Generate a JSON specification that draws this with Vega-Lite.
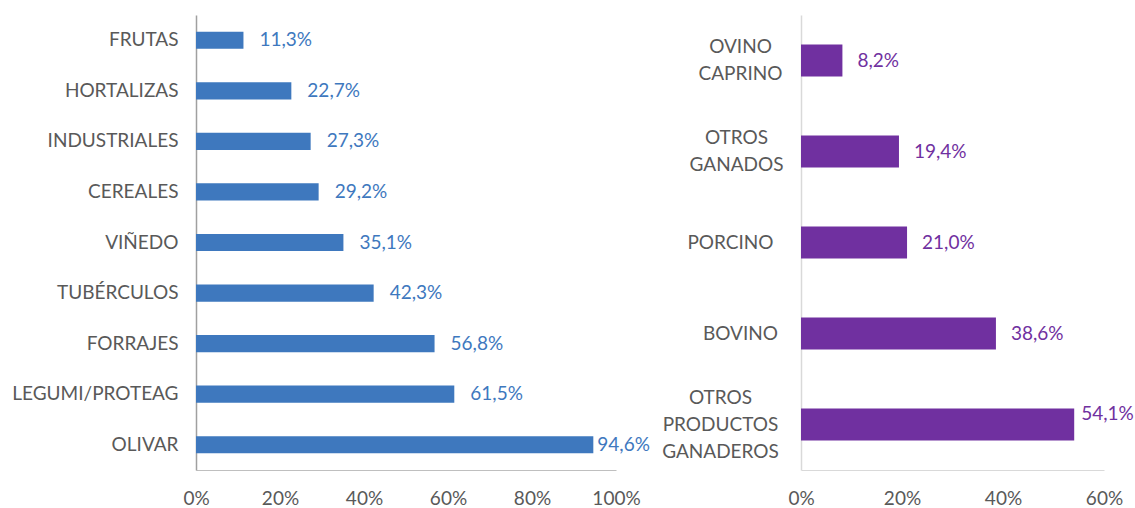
{
  "$schema": "https://vega.github.io/schema/vega-lite/v6.json",
  "padding": {"left": 11, "top": 15, "right": 0, "bottom": 0},
  "background": "white",
  "config": {
    "locale": {"number": {"decimal": ",", "thousands": ".", "grouping": [3], "currency": ["", " €"]}},
    "view": {"stroke": null},
    "font": "Lato",
    "axis": {"labelFont": "Lato", "labelFontSize": 19, "labelColor": "#595959", "ticks": false, "grid": false, "title": null}
  },
  "spacing": 11,
  "hconcat": [
    {
      "width": 420,
      "height": 455,
      "data": {"values": [
        {"cat": "FRUTAS", "v": 0.113},
        {"cat": "HORTALIZAS", "v": 0.227},
        {"cat": "INDUSTRIALES", "v": 0.273},
        {"cat": "CEREALES", "v": 0.292},
        {"cat": "VIÑEDO", "v": 0.351},
        {"cat": "TUBÉRCULOS", "v": 0.423},
        {"cat": "FORRAJES", "v": 0.568},
        {"cat": "LEGUMI/PROTEAG", "v": 0.615},
        {"cat": "OLIVAR", "v": 0.946}
      ]},
      "encoding": {
        "y": {"field": "cat", "type": "nominal", "sort": null,
              "scale": {"paddingInner": 0.66, "paddingOuter": 0.33},
              "axis": {"labelPadding": 18, "domainColor": "#A0A0A0", "domainWidth": 1.5}},
        "x": {"field": "v", "type": "quantitative",
              "scale": {"domain": [0, 1], "nice": false},
              "axis": {"values": [0, 0.2, 0.4, 0.6, 0.8, 1], "format": ".0%", "labelPadding": 19, "domainColor": "#BFBFBF", "labelFlush": false}}
      },
      "layer": [
        {"mark": {"type": "bar", "color": "#3E78BE"}},
        {"transform": [{"filter": "datum.v < 0.9"}],
         "mark": {"type": "text", "align": "left", "baseline": "middle", "dx": 16, "fontSize": 19, "color": "#3E78BE", "font": "Lato"},
         "encoding": {"text": {"field": "v", "type": "quantitative", "format": ".1%"}}},
        {"transform": [{"filter": "datum.v >= 0.9"}],
         "mark": {"type": "text", "align": "left", "baseline": "middle", "dx": 4, "fontSize": 19, "color": "#3E78BE", "font": "Lato"},
         "encoding": {"text": {"field": "v", "type": "quantitative", "format": ".1%"}}}
      ]
    },
    {
      "width": 303,
      "height": 455,
      "data": {"values": [
        {"cat": "OVINO|CAPRINO", "v": 0.082},
        {"cat": "OTROS|GANADOS", "v": 0.194},
        {"cat": "PORCINO", "v": 0.21},
        {"cat": "BOVINO", "v": 0.386},
        {"cat": "OTROS|PRODUCTOS|GANADEROS", "v": 0.541}
      ]},
      "encoding": {
        "y": {"field": "cat", "type": "nominal", "sort": null,
              "scale": {"paddingInner": 0.65, "paddingOuter": 0.325},
              "axis": {"labelExpr": "split(datum.label, '|')", "labelAlign": "center", "labelLineHeight": 27,
                       "labelPadding": {"condition": [
                         {"test": "datum.value == 'OTROS|PRODUCTOS|GANADEROS'", "value": 81},
                         {"test": "datum.value == 'PORCINO'", "value": 71},
                         {"test": "datum.value == 'OTROS|GANADOS'", "value": 65}
                       ], "value": 61},
                       "labelOffset": {"condition": [
                         {"test": "datum.value == 'OTROS|PRODUCTOS|GANADEROS'", "value": -27},
                         {"test": "indexof(datum.value, '|') >= 0", "value": -13.5}
                       ], "value": 0},
                       "domainColor": "#D9D9D9", "domainWidth": 1.5}},
        "x": {"field": "v", "type": "quantitative",
              "scale": {"domain": [0, 0.6], "nice": false},
              "axis": {"values": [0, 0.2, 0.4, 0.6], "format": ".0%", "labelPadding": 19, "domainColor": "#D9D9D9", "labelFlush": false}}
      },
      "layer": [
        {"mark": {"type": "bar", "color": "#7030A0"}},
        {"transform": [{"filter": "datum.v < 0.5"}],
         "mark": {"type": "text", "align": "left", "baseline": "middle", "dx": 15, "fontSize": 19, "color": "#7030A0", "font": "Lato"},
         "encoding": {"text": {"field": "v", "type": "quantitative", "format": ".1%"}}},
        {"transform": [{"filter": "datum.v >= 0.5"}],
         "mark": {"type": "text", "align": "left", "baseline": "middle", "dx": 7, "dy": -11, "fontSize": 19, "color": "#7030A0", "font": "Lato"},
         "encoding": {"text": {"field": "v", "type": "quantitative", "format": ".1%"}}}
      ]
    }
  ]
}
